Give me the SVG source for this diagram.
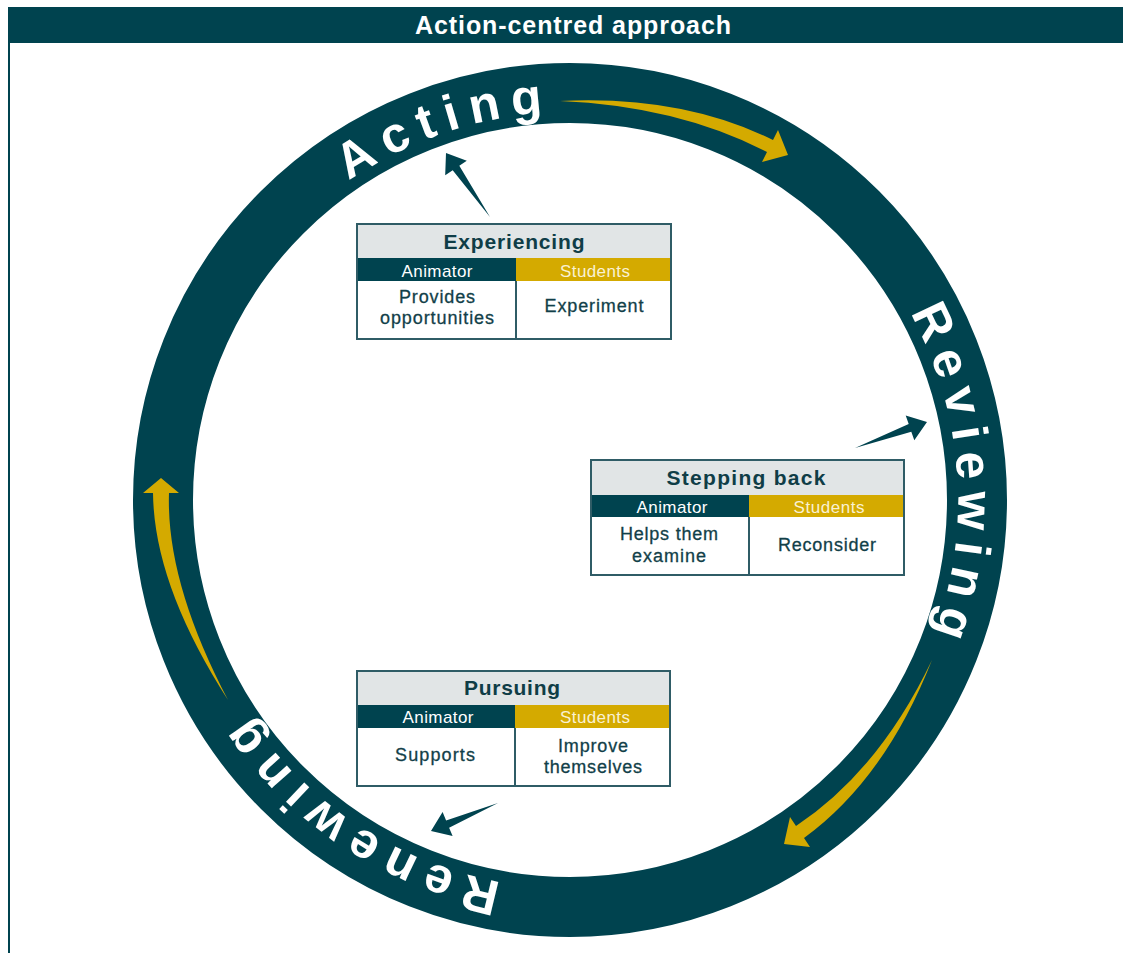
<svg xmlns="http://www.w3.org/2000/svg" xmlns:xlink="http://www.w3.org/1999/xlink" width="1123" height="953" viewBox="0 0 1123 953">
  <defs>
    <style>
      .teal { fill: #00434f; }
      .gold { fill: #d4aa00; }
      .title { font-family: "Liberation Sans", Arial, sans-serif; font-weight: bold; font-size: 25px; fill: #ffffff; }
      .ring-label { font-family: "Liberation Sans", Arial, sans-serif; font-weight: bold; font-size: 50px; letter-spacing: 10.5px; fill: #ffffff; }
      .box-frame { fill: #ffffff; stroke: #2f5c66; stroke-width: 2; }
      .box-head { fill: #e1e5e6; }
      .col-a { fill: #00434f; }
      .col-s { fill: #d4aa00; }
      .rule { stroke: #2f5c66; stroke-width: 2; }
      .head-txt { font-family: "Liberation Sans", Arial, sans-serif; font-weight: bold; font-size: 21px; fill: #0f3d47; text-anchor: middle; }
      .sub-a { font-family: "Liberation Sans", Arial, sans-serif; font-size: 17px; fill: #ffffff; text-anchor: middle; }
      .sub-s { font-family: "Liberation Sans", Arial, sans-serif; font-size: 17px; fill: #faf1d2; text-anchor: middle; }
      .body-txt { font-family: "Liberation Sans", Arial, sans-serif; font-size: 18px; fill: #123f49; text-anchor: middle; stroke: #123f49; stroke-width: 0.3; }
    </style>
    <!-- baseline circle for the ring labels, starting at the left and running clockwise -->
    <path id="labelCircle" d="M 182 500 A 388 388 0 1 1 958 500 A 388 388 0 1 1 182 500" fill="none"/>
  </defs>

  <rect width="1123" height="953" fill="#ffffff"/>

  <!-- header bar and frame -->
  <g id="header">
    <rect x="8" y="7" width="1115" height="36" class="teal"/>
    <line x1="9" y1="43" x2="9" y2="953" stroke="#00434f" stroke-width="2"/>
    <text x="573" y="34" class="title" text-anchor="middle" textLength="316">Action-centred approach</text>
  </g>

  <!-- cycle ring -->
  <g id="ring">
    <circle cx="570" cy="500" r="407" fill="none" stroke="#00434f" stroke-width="60"/>
  </g>

  <!-- flow arrows inside the ring -->
  <g id="flow-arrows" class="gold">
    <path d="M560,101 Q682,95 773,140 L778,130 L788,155 L762,162 L767,152 Q678,106 560,101 Z"/>
    <path d="M932,660 Q885,779 804,838 L810,847 L784,844 L790,817 L796,826 Q879,771 932,660 Z"/>
    <path d="M228,700 Q154,585 153,493 L143,493 L161,478 L179,493 L169,493 Q166,582 228,700 Z"/>
  </g>

  <!-- ring labels -->
  <g id="ring-labels" class="ring-label">
    <text text-anchor="middle"><textPath xlink:href="#labelCircle" href="#labelCircle" startOffset="19.83%">Acting</textPath></text>
    <text text-anchor="middle"><textPath xlink:href="#labelCircle" href="#labelCircle" startOffset="49%">Reviewing</textPath></text>
    <text text-anchor="middle"><textPath xlink:href="#labelCircle" href="#labelCircle" startOffset="84.39%">Renewing</textPath></text>
  </g>

  <!-- pointers from each stage to the ring -->
  <g id="connectors" class="teal">
    <polygon id="experiencing-to-acting" points="490,217 459.3,165.8 466.8,160.8 446,153 445.2,175.2 452.7,170.2"/>
    <polygon id="stepping-back-to-reviewing" points="855,448 908.7,424.1 905.7,415.6 927,422 914.3,440.2 911.3,431.7"/>
    <polygon id="pursuing-to-renewing" points="498,803 446.1,820.4 442.6,812.1 431,831 452.6,836.1 449.1,827.8"/>
  </g>

  <!-- stage: Experiencing -->
  <g id="experiencing">
    <rect x="357" y="224" width="314" height="115" class="box-frame"/>
    <rect x="358" y="225" width="312" height="33" class="box-head"/>
    <rect x="358" y="258" width="158" height="23" class="col-a"/>
    <rect x="516" y="258" width="154" height="23" class="col-s"/>
    <line x1="516" y1="281" x2="516" y2="339" class="rule"/>
    <rect x="357" y="224" width="314" height="115" fill="none" stroke="#2f5c66" stroke-width="2"/>
    <text x="514" y="249" class="head-txt" textLength="141">Experiencing</text>
    <text x="437" y="276.5" class="sub-a" textLength="71">Animator</text>
    <text x="595" y="276.5" class="sub-s" textLength="70">Students</text>
    <text x="437" y="303" class="body-txt" textLength="76">Provides</text>
    <text x="437" y="324" class="body-txt" textLength="114">opportunities</text>
    <text x="594" y="312" class="body-txt" textLength="99">Experiment</text>
  </g>

  <!-- stage: Stepping back -->
  <g id="stepping-back">
    <rect x="591" y="460" width="313" height="115" class="box-frame"/>
    <rect x="592" y="461" width="311" height="34" class="box-head"/>
    <rect x="592" y="495" width="157" height="22" class="col-a"/>
    <rect x="749" y="495" width="154" height="22" class="col-s"/>
    <line x1="749" y1="517" x2="749" y2="575" class="rule"/>
    <rect x="591" y="460" width="313" height="115" fill="none" stroke="#2f5c66" stroke-width="2"/>
    <text x="746" y="485" class="head-txt" textLength="159">Stepping back</text>
    <text x="672" y="512.5" class="sub-a" textLength="71">Animator</text>
    <text x="829" y="512.5" class="sub-s" textLength="71">Students</text>
    <text x="669" y="540" class="body-txt" textLength="98">Helps them</text>
    <text x="669" y="561.5" class="body-txt" textLength="74">examine</text>
    <text x="827" y="551" class="body-txt" textLength="98">Reconsider</text>
  </g>

  <!-- stage: Pursuing -->
  <g id="pursuing">
    <rect x="357" y="671" width="313" height="115" class="box-frame"/>
    <rect x="358" y="672" width="311" height="33" class="box-head"/>
    <rect x="358" y="705" width="157" height="23" class="col-a"/>
    <rect x="515" y="705" width="154" height="23" class="col-s"/>
    <line x1="515" y1="728" x2="515" y2="786" class="rule"/>
    <rect x="357" y="671" width="313" height="115" fill="none" stroke="#2f5c66" stroke-width="2"/>
    <text x="512" y="695" class="head-txt" textLength="96">Pursuing</text>
    <text x="438" y="723" class="sub-a" textLength="71">Animator</text>
    <text x="595" y="723" class="sub-s" textLength="70">Students</text>
    <text x="435" y="761" class="body-txt" textLength="80">Supports</text>
    <text x="593" y="752" class="body-txt" textLength="70">Improve</text>
    <text x="593" y="772.5" class="body-txt" textLength="98">themselves</text>
  </g>
</svg>
